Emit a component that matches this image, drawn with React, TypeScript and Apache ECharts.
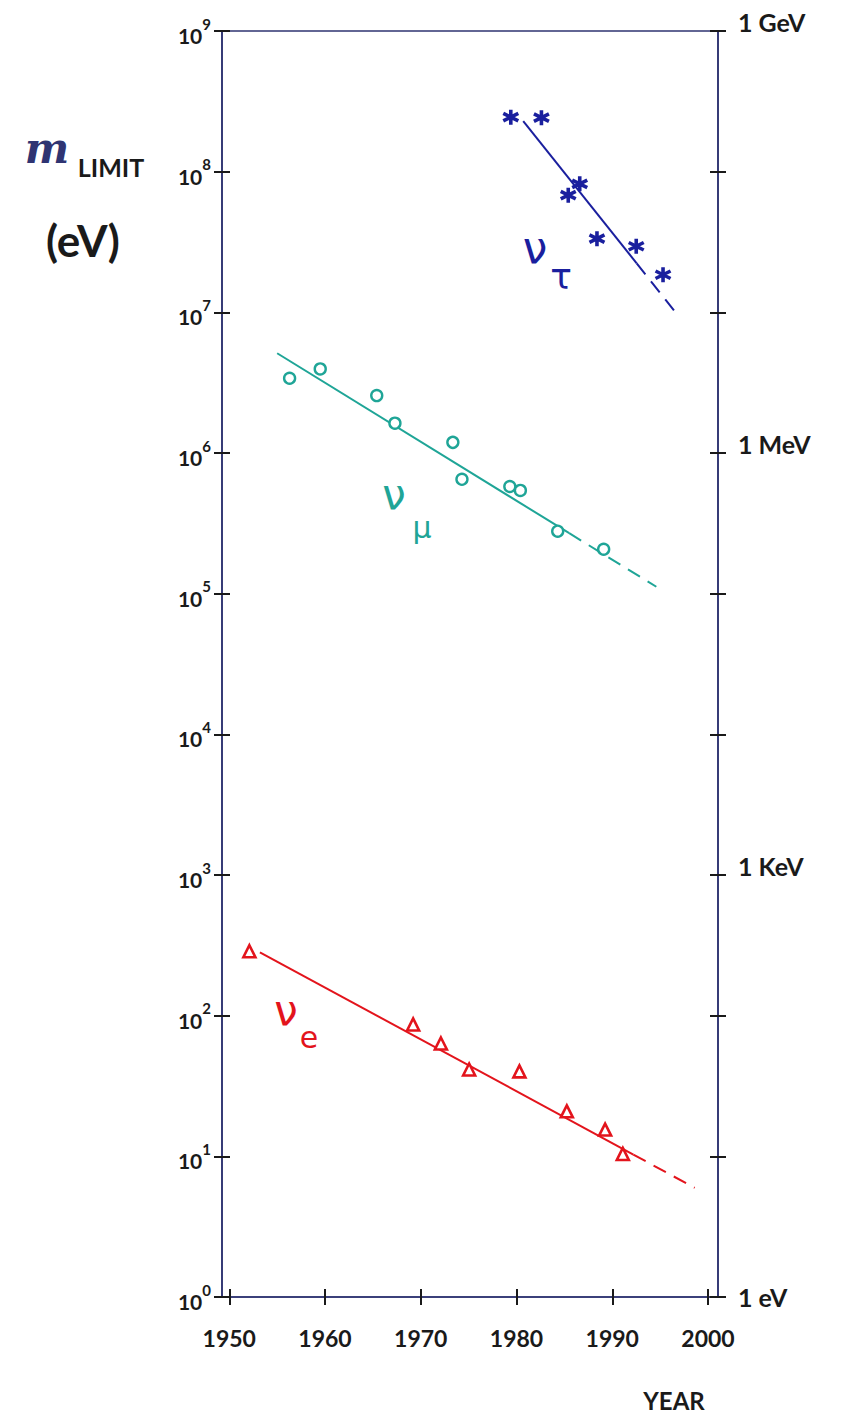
import React, { useEffect, useRef } from 'react';
import * as echarts from 'echarts';

// ---- data ----
const yearTicks = [1950, 1960, 1970, 1980, 1990, 2000];
const energyTickLabels: Record<number, string> = { 0: '1 eV', 3: '1 KeV', 6: '1 MeV', 9: '1 GeV' };

const nuEYears = [1952.1, 1969.2, 1972.1, 1975.05, 1980.3, 1985.25, 1989.25, 1991.1];
const nuEMass = [287, 86.6, 63.4, 41.4, 40.2, 20.9, 15.5, 10.4];
const nuEFitYears = [1953.2, 1992.2, 1998.6];
const nuEFitMass = [282, 10.3, 5.97];

const nuMuYears = [1956.3, 1959.5, 1965.4, 1967.3, 1973.35, 1974.3, 1979.3, 1980.4, 1984.3, 1989.1];
const nuMuMass = [3.4e6, 3.96e6, 2.56e6, 1.63e6, 1.19e6, 6.5e5, 5.78e5, 5.42e5, 2.78e5, 2.07e5];
const nuMuFitYears = [1955.0, 1985.5, 1994.6];
const nuMuFitMass = [5.12e6, 2.69e5, 1.12e5];

const nuTauYears = [1979.4, 1982.6, 1986.6, 1985.4, 1988.4, 1992.5, 1995.3];
const nuTauMass = [2.44e8, 2.42e8, 8.19e7, 6.8e7, 3.34e7, 2.95e7, 1.85e7];
const nuTauFitYears = [1980.7, 1992.55, 1996.55];
const nuTauFitMass = [2.29e8, 2.23e7, 1.01e7];

// ---- styling ----
const NAVY = '#2f3472';
const INK = '#1a1a1a';
const RED = '#e3141c';
const TEAL = '#1fa597';
const BLUE = '#1a1f9e';
const FONT = 'Lato';

const pairs = (xs: number[], ys: number[]) => xs.map((x, i) => [x, ys[i]]);

const ASTERISK = 'path://M10 0 L10 20 M1.34 5 L18.66 15 M1.34 15 L18.66 5';

export default function App() {
  const ref = useRef<HTMLDivElement>(null);

  useEffect(() => {
    document.body.style.margin = '0';
    const chart = echarts.init(ref.current!, null, { renderer: 'svg' });

    const xMin = 1949.24;
    const xMax = 2001.04;

    const xBase = {
      type: 'value' as const,
      min: xMin,
      max: xMax,
      position: 'bottom' as const,
      splitLine: { show: false },
    };
    const yBase = {
      type: 'log' as const,
      logBase: 10,
      min: 1,
      max: 1e9,
      splitNumber: 9,
      splitLine: { show: false },
      minorTick: { show: false },
    };
    const decadeExp = (v: number) => {
      const e = Math.log10(v);
      const r = Math.round(e);
      return Math.abs(e - r) < 0.01 ? r : null;
    };

    const fitLine = (xs: number[], ys: number[], from: number, to: number, color: string, dashed: boolean) => ({
      type: 'line',
      data: pairs(xs, ys).slice(from, to),
      symbol: 'none',
      silent: true,
      z: 2,
      lineStyle: { color, width: 2, type: dashed ? [14, 9] : 'solid' },
    });

    const txt = (text: string, x: number, y: number, fill: string, font: string) => ({
      type: 'text',
      x,
      y,
      style: { text, fill, font, align: 'center', verticalAlign: 'middle' },
    });

    chart.setOption({
      animation: false,
      backgroundColor: '#ffffff',
      grid: {
        left: 222,
        right: 125,
        top: 31,
        bottom: 118,
        show: true,
        borderColor: NAVY,
        borderWidth: 1.6,
        containLabel: false,
        outerBoundsMode: 'none',
      },
      xAxis: [
        {
          ...xBase,
          axisLine: { show: true, onZero: false, lineStyle: { color: NAVY, width: 1.6 } },
          axisTick: { show: true, inside: false, length: 8, customValues: yearTicks, lineStyle: { color: INK, width: 2 } },
          axisLabel: {
            show: true,
            customValues: yearTicks,
            margin: 29,
            fontSize: 23,
            fontFamily: FONT,
            fontWeight: 'bold',
            color: INK,
            formatter: (v: number) => String(Math.round(v)),
          },
        },
        {
          ...xBase,
          axisLine: { show: false, onZero: false },
          axisTick: { show: true, inside: true, length: 8, customValues: yearTicks, lineStyle: { color: INK, width: 2 } },
          axisLabel: { show: false },
        },
      ],
      yAxis: [
        {
          ...yBase,
          position: 'left',
          axisLine: { show: true, lineStyle: { color: NAVY, width: 1.6 } },
          axisTick: { show: true, inside: false, length: 8, lineStyle: { color: INK, width: 2 } },
          axisLabel: {
            show: true,
            margin: 11,
            formatter: (v: number) => {
              const r = decadeExp(v);
              return r === null ? '' : `{b|10}{s|${r}}`;
            },
            rich: {
              b: { fontSize: 21, fontFamily: FONT, fontWeight: 'bold', color: INK, verticalAlign: 'bottom', lineHeight: 30 },
              s: { fontSize: 15, fontFamily: FONT, fontWeight: 'bold', color: INK, verticalAlign: 'top', lineHeight: 16 },
            },
          },
        },
        {
          ...yBase,
          position: 'left',
          axisLine: { show: false },
          axisTick: { show: true, inside: true, length: 8, lineStyle: { color: INK, width: 2 } },
          axisLabel: { show: false },
        },
        {
          ...yBase,
          position: 'right',
          axisLine: { show: true, lineStyle: { color: NAVY, width: 1.6 } },
          axisTick: { show: true, inside: false, length: 8, lineStyle: { color: INK, width: 2 } },
          axisLabel: {
            show: true,
            margin: 20,
            formatter: (v: number) => {
              const r = decadeExp(v);
              if (r === null || !energyTickLabels[r]) return '';
              return r === 0 ? `{lo|${energyTickLabels[r]}}` : `{up|${energyTickLabels[r]}}`;
            },
            rich: {
              up: { fontSize: 25, fontFamily: FONT, fontWeight: 'bold', color: INK, padding: [0, 0, 18, 0] },
              lo: { fontSize: 25, fontFamily: FONT, fontWeight: 'bold', color: INK },
            },
          },
        },
        {
          ...yBase,
          position: 'right',
          axisLine: { show: false },
          axisTick: { show: true, inside: true, length: 8, lineStyle: { color: INK, width: 2 } },
          axisLabel: { show: false },
        },
      ],
      series: [
        fitLine(nuEFitYears, nuEFitMass, 0, 2, RED, false),
        fitLine(nuEFitYears, nuEFitMass, 1, 3, RED, true),
        fitLine(nuMuFitYears, nuMuFitMass, 0, 2, TEAL, false),
        fitLine(nuMuFitYears, nuMuFitMass, 1, 3, TEAL, true),
        fitLine(nuTauFitYears, nuTauFitMass, 0, 2, BLUE, false),
        fitLine(nuTauFitYears, nuTauFitMass, 1, 3, BLUE, true),
        {
          name: 'νe',
          type: 'scatter',
          data: pairs(nuEYears, nuEMass),
          symbol: 'triangle',
          symbolSize: 12,
          z: 5,
          itemStyle: { color: '#ffffff', borderColor: RED, borderWidth: 2.6, opacity: 1 },
        },
        {
          name: 'νμ',
          type: 'scatter',
          data: pairs(nuMuYears, nuMuMass),
          symbol: 'circle',
          symbolSize: 11,
          z: 5,
          itemStyle: { color: '#ffffff', borderColor: TEAL, borderWidth: 2.4, opacity: 1 },
        },
        {
          name: 'ντ',
          type: 'scatter',
          data: pairs(nuTauYears, nuTauMass),
          symbol: ASTERISK,
          symbolSize: 15,
          z: 5,
          itemStyle: { color: BLUE, borderColor: BLUE, borderWidth: 3.6, opacity: 1 },
        },
      ],
      graphic: [
        txt('m', 47, 148, NAVY, 'italic bold 42px "DejaVu Serif"'),
        txt('LIMIT', 111, 167, INK, 'bold 25px Lato'),
        txt('(eV)', 83, 240, INK, 'bold 44px Lato'),
        txt('YEAR', 674, 1400, INK, 'bold 24px Lato'),
        txt('ν', 535, 247, BLUE, '44px "DejaVu Sans"'),
        txt('τ', 561, 276, BLUE, '36px "DejaVu Sans"'),
        txt('ν', 394, 494, TEAL, '42px "DejaVu Sans"'),
        txt('μ', 422, 527, TEAL, '30px "DejaVu Sans"'),
        txt('ν', 286, 1010, RED, '42px "DejaVu Sans"'),
        txt('e', 309, 1037, RED, '30px "DejaVu Sans"'),
      ],
    });

    return () => chart.dispose();
  }, []);

  return <div ref={ref} style={{ width: 843, height: 1415 }} />;
}
